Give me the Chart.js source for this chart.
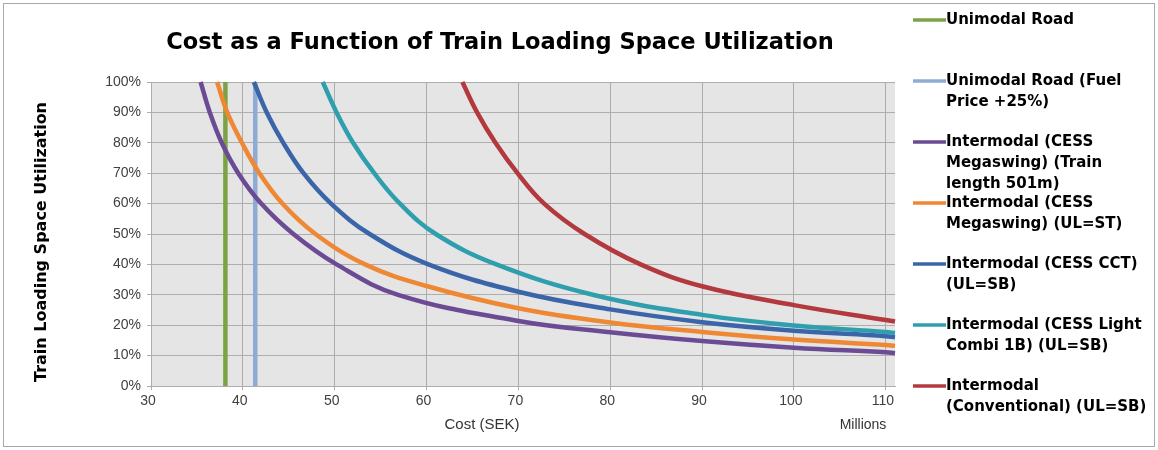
<!DOCTYPE html>
<html>
<head>
<meta charset="utf-8">
<script src="https://cdn.jsdelivr.net/npm/chart.js@4.4.1/dist/chart.umd.min.js"></script>
<style>
  html, body { margin: 0; padding: 0; background: #ffffff; }
  #wrap { width: 1158px; height: 450px; position: relative; }
</style>
</head>
<body>
<div id="wrap"><canvas id="c" width="1158" height="450"></canvas></div>
<script>
// Cost in millions SEK (x) against train loading space utilization in % (y)
const roadCost = [38.1, 38.1];
const roadUtil = [0, 100];

const roadFuelCost = [41.35, 41.35];
const roadFuelUtil = [0, 100];

const megaswing501Cost = [35.4, 36.4, 37.7, 39.5, 42.0, 45.5, 50.2, 56.9, 70, 80, 90, 100, 110, 111];
const megaswing501Util = [100, 90, 80, 70, 60, 50, 40, 30, 21.4, 17.7, 14.8, 12.6, 11.1, 10.8];

const megaswingStCost = [37.2, 38.3, 39.9, 41.8, 44.3, 47.9, 53.3, 60, 70, 80, 90, 100, 110, 111];
const megaswingStUtil = [100, 90, 80, 70, 60, 50, 40, 32.9, 25.6, 20.9, 17.8, 15.3, 13.5, 13.2];

const cctCost = [41.2, 42.6, 44.4, 46.6, 49.6, 53.8, 60.2, 70, 80, 90, 100, 110, 111];
const cctUtil = [100, 90, 80, 70, 60, 50, 40, 31.0, 25.2, 21.0, 18.2, 16.4, 16.0];

const lightCombiCost = [48.7, 50.2, 52.0, 54.3, 57.1, 61.0, 67.6, 78.1, 90, 100, 110, 111];
const lightCombiUtil = [100, 90, 80, 70, 60, 50, 40, 30, 23.4, 19.9, 17.8, 17.4];

const conventionalCost = [63.9, 65.5, 67.5, 69.9, 72.8, 77.2, 83.3, 90, 100, 110, 111];
const conventionalUtil = [100, 90, 80, 70, 60, 50, 40, 32.8, 26.6, 21.7, 21.2];

const seriesNames = [
  ['Unimodal Road'],
  ['Unimodal Road (Fuel', 'Price +25%)'],
  ['Intermodal (CESS', 'Megaswing) (Train', 'length 501m)'],
  ['Intermodal (CESS', 'Megaswing) (UL=ST)'],
  ['Intermodal (CESS CCT)', '(UL=SB)'],
  ['Intermodal (CESS Light', 'Combi 1B) (UL=SB)'],
  ['Intermodal', '(Conventional) (UL=SB)']
];
const seriesColors = ['#7ca343', '#8eabd6', '#6c4b95', '#ef8834', '#3b65a9', '#2f9fae', '#b2393d'];

const xTicksMin = 30, xTicksMax = 111, xStep = 10;
const yTicksMin = 0, yTicksMax = 100, yStep = 10;

const chartTitle = 'Cost as a Function of Train Loading Space Utilization';
const xAxisTitle = 'Cost (SEK)';
const xAxisUnit = 'Millions';
const yAxisTitle = 'Train Loading Space Utilization';

function pairs(xs, ys) { return xs.map((x, i) => ({ x: x, y: ys[i] })); }

const seriesData = [
  pairs(roadCost, roadUtil),
  pairs(roadFuelCost, roadFuelUtil),
  pairs(megaswing501Cost, megaswing501Util),
  pairs(megaswingStCost, megaswingStUtil),
  pairs(cctCost, cctUtil),
  pairs(lightCombiCost, lightCombiUtil),
  pairs(conventionalCost, conventionalUtil)
];

const datasets = seriesData.map((d, i) => {
  const straight = i < 2;
  return {
    label: seriesNames[i].join(' '),
    data: d,
    showLine: true,
    borderColor: seriesColors[i],
    backgroundColor: seriesColors[i],
    borderWidth: 4.5,
    pointRadius: 0,
    pointHoverRadius: 0,
    tension: straight ? 0 : 0.4,
    cubicInterpolationMode: 'default',
    borderCapStyle: 'butt',
    borderJoinStyle: 'round',
    order: seriesData.length - i,
    clip: 2
  };
});

const TICK_FONT = { family: "'Liberation Sans', Arial, sans-serif", size: 14 };
const BOLD = "'DejaVu Sans', Verdana, sans-serif";

// plot background, frame, titles and the multi-line legend on the right
const decorations = {
  id: 'decorations',
  beforeDraw(chart) {
    const { ctx, chartArea: a } = chart;
    ctx.save();
    ctx.fillStyle = '#ffffff';
    ctx.fillRect(0, 0, chart.width, chart.height);
    ctx.fillStyle = '#e5e5e5';
    ctx.fillRect(a.left, a.top, a.right - a.left, a.bottom - a.top);
    ctx.strokeStyle = '#a9a9a9';
    ctx.lineWidth = 1;
    ctx.strokeRect(3.5, 3.5, chart.width - 7, chart.height - 7);
    ctx.restore();
  },
  afterDraw(chart) {
    const { ctx } = chart;
    ctx.save();
    // title
    ctx.fillStyle = '#000000';
    ctx.textAlign = 'center';
    ctx.textBaseline = 'middle';
    ctx.font = 'bold 22.5px ' + BOLD;
    ctx.fillText(chartTitle, 500, 43);
    // y axis title
    ctx.save();
    ctx.translate(42, 242);
    ctx.rotate(-Math.PI / 2);
    ctx.font = 'bold 16px ' + BOLD;
    ctx.fillText(yAxisTitle, 0, 0);
    ctx.restore();
    // x axis title and unit
    ctx.font = "15px 'Liberation Sans', Arial, sans-serif";
    ctx.fillStyle = '#333333';
    ctx.fillText(xAxisTitle, 482, 425);
    ctx.font = "14px 'Liberation Sans', Arial, sans-serif";
    ctx.fillText(xAxisUnit, 863, 425);
    // legend
    ctx.textAlign = 'left';
    ctx.font = 'bold 15px ' + BOLD;
    chart.data.datasets.forEach((ds, i) => {
      const y0 = 20 + 61 * i;
      ctx.strokeStyle = ds.borderColor;
      ctx.lineWidth = 3.5;
      ctx.beginPath();
      ctx.moveTo(913, y0);
      ctx.lineTo(946, y0);
      ctx.stroke();
      ctx.fillStyle = '#000000';
      seriesNames[i].forEach((line, k) => {
        ctx.fillText(line, 946, y0 + 21 * k);
      });
    });
    ctx.restore();
  }
};

new Chart(document.getElementById('c'), {
  type: 'scatter',
  data: { datasets: datasets },
  options: {
    responsive: false,
    animation: false,
    events: [],
    layout: { padding: { left: 0, top: 82, right: 263, bottom: 0 } },
    plugins: {
      legend: { display: false },
      title: { display: false },
      tooltip: { enabled: false }
    },
    scales: {
      x: {
        type: 'linear',
        min: xTicksMin,
        max: xTicksMax,
        afterFit(scale) { scale.height = 64; },
        ticks: {
          stepSize: xStep,
          includeBounds: false,
          font: TICK_FONT,
          color: '#404040',
          padding: 3,
          labelOffset: -3,
          maxRotation: 0
        },
        grid: { color: '#adadad', lineWidth: 1, tickLength: 4 },
        border: { color: '#adadad' }
      },
      y: {
        type: 'linear',
        min: yTicksMin,
        max: yTicksMax,
        afterFit(scale) { scale.width = 151; },
        ticks: {
          stepSize: yStep,
          font: TICK_FONT,
          color: '#404040',
          padding: 6,
          callback: v => v + '%'
        },
        grid: { color: '#adadad', lineWidth: 1, tickLength: 4 },
        border: { color: '#adadad' }
      }
    }
  },
  plugins: [decorations]
});
</script>
</body>
</html>
